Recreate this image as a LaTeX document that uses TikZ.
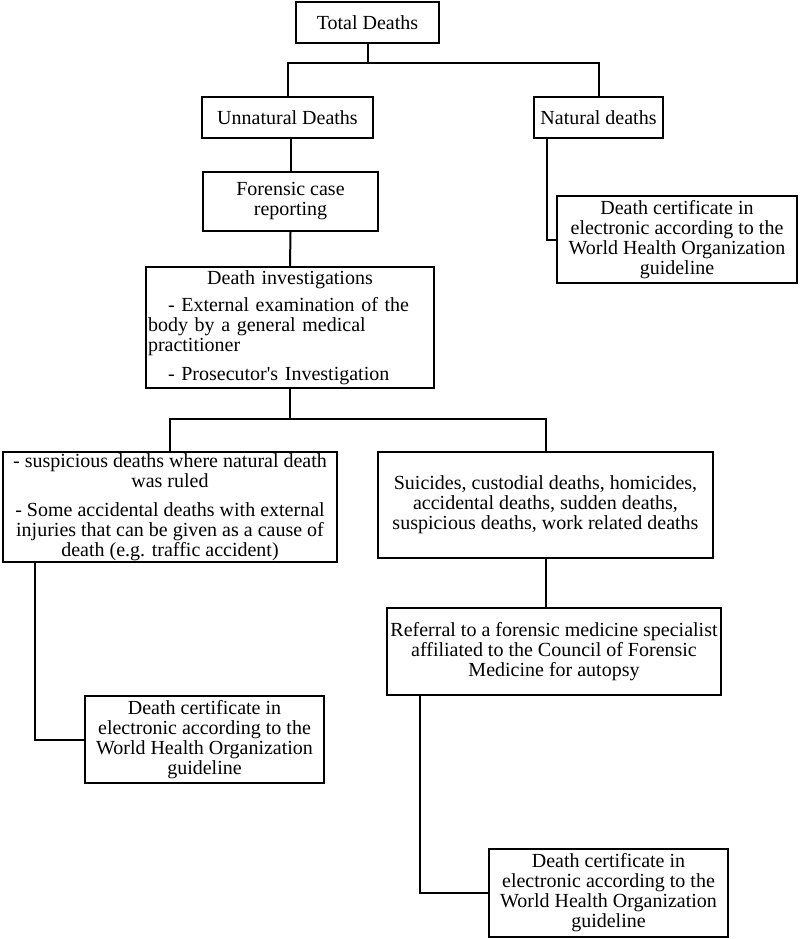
\documentclass[tikz,border=0pt]{standalone}
\usepackage{fontspec}
\setmainfont{Liberation Serif}[Ligatures=TeXOff]
\begin{document}
\begin{tikzpicture}[x=1pt,y=-1pt,
  box/.style={draw, line width=2pt, inner sep=1pt, align=center, font=\fontsize{20}{20}\selectfont},
  link/.style={draw, line width=2pt}]
\useasboundingbox (0,0) rectangle (800,939);
\fill[white] (0,0) rectangle (800,939);
\node[box, minimum width=143pt, minimum height=41pt] (td) at (367.5,22.5) {Total Deaths};
\node[box, minimum width=171pt, minimum height=41pt] (un) at (287.5,117.5) {Unnatural Deaths};
\node[box, minimum width=129pt, minimum height=41pt] (nd) at (598.5,117.5) {Natural deaths};
\node[box, minimum width=175pt, minimum height=59pt] (fc) at (290.5,201.5) {Forensic case\\reporting};
\node[box, minimum width=240pt, minimum height=87pt] (dc1) at (677,239.5) {Death certificate in\\electronic according to the\\World Health Organization\\guideline};
\node[box, minimum width=288pt, minimum height=121pt, text width=284pt, align=left] (di) at (290,327.5)
  {\makebox[284pt]{Death investigations}\\[7pt]
   \hspace*{20pt}- External examination of the\\
   body by a general medical\\
   practitioner\\[9pt]
   \hspace*{20pt}- Prosecutor's Investigation};
\node[box, minimum width=334pt, minimum height=108pt] (lb) at (170,507)
  {- suspicious deaths where natural death\\was ruled\\[9pt]
   - Some accidental deaths with external\\injuries that can be given as a cause of\\death (e.g. traffic accident)};
\node[box, minimum width=335pt, minimum height=106pt] (sc) at (545.5,505)
  {Suicides, custodial deaths, homicides,\\accidental deaths, sudden deaths,\\suspicious deaths, work related deaths};
\node[box, minimum width=334pt, minimum height=87pt] (rf) at (554,651.5)
  {Referral to a forensic medicine specialist\\affiliated to the Council of Forensic\\Medicine for autopsy};
\node[box, minimum width=239pt, minimum height=87pt] (dc2) at (204.5,739.5) {Death certificate in\\electronic according to the\\World Health Organization\\guideline};
\node[box, minimum width=239pt, minimum height=88pt] (dc3) at (608.5,893) {Death certificate in\\electronic according to the\\World Health Organization\\guideline};
% connectors
\draw[link] (td.south) -- ++(0,19) -| (un.north);
\draw[link] (td.south) -- ++(0,19) -| (nd.north);
\draw[link] (fc.north) -- (fc.north |- un.south);
\draw[link] (fc.south) -- (di.north);
\draw[link] ([xshift=14pt]nd.south west) |- (dc1.west);
\draw[link] (di.south) -- ++(0,30) -| (lb.north);
\draw[link] (di.south) -- ++(0,30) -| (sc.north);
\draw[link] (sc.south) -- (sc.south |- rf.north);
\draw[link] ([xshift=33pt]lb.south west) |- (dc2.west);
\draw[link] ([xshift=34pt]rf.south west) |- (dc3.west);
\end{tikzpicture}
\end{document}
